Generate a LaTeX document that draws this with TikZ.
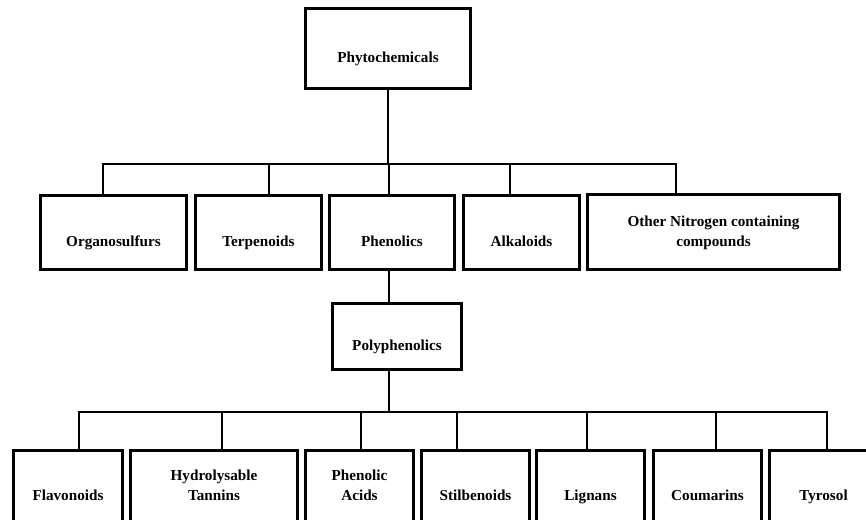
\documentclass[tikz,border=0pt]{standalone}
\usepackage{fontspec}
\setmainfont{Liberation Serif}

\begin{document}
\begin{tikzpicture}[x=0.75pt, y=-0.75pt,
    box/.style={draw, line width=2pt, align=center, inner sep=0pt,
      font=\fontsize{11.4}{15}\selectfont\bfseries},
    link/.style={line width=2pt}]
    \useasboundingbox (0,0) rectangle (866,519);
    \clip (0,0) rectangle (866,519);

    % top
    \node[box, minimum width=123.75pt, minimum height=60pt] (phyto) at (388,48.5) {\strut\\\strut Phytochemicals};

    % first level
    \node[box, minimum width=109.5pt, minimum height=55.5pt] (orgs) at (113.5,232.5) {\strut\\\strut Organosulfurs};
    \node[box, minimum width=94.5pt, minimum height=55.5pt] (terp) at (258.5,232.5) {\strut\\\strut Terpenoids};
    \node[box, minimum width=93.75pt, minimum height=55.5pt] (phen) at (392,232.5) {\strut\\\strut Phenolics};
    \node[box, minimum width=87pt, minimum height=55.5pt] (alka) at (521.5,232.5) {\strut\\\strut Alkaloids};
    \node[box, minimum width=189pt, minimum height=56pt] (other) at (713.5,232) {\strut Other Nitrogen containing\\\strut compounds};

    % polyphenolics
    \node[box, minimum width=96.75pt, minimum height=49.5pt] (poly) at (397,336.5) {\strut\\\strut Polyphenolics};

    % second level
    \node[box, minimum width=81.75pt, minimum height=53.25pt] (flav) at (68,486) {\strut\\\strut Flavonoids};
    \node[box, minimum width=125.25pt, minimum height=53.25pt] (hydro) at (214,486) {\strut Hydrolysable\\\strut Tannins};
    \node[box, minimum width=81pt, minimum height=53.25pt] (pacid) at (359.5,486) {\strut Phenolic\\\strut Acids};
    \node[box, minimum width=81pt, minimum height=53.25pt] (stil) at (475.5,486) {\strut\\\strut Stilbenoids};
    \node[box, minimum width=81pt, minimum height=53.25pt] (lign) at (590.5,486) {\strut\\\strut Lignans};
    \node[box, minimum width=81pt, minimum height=53.25pt] (coum) at (707.5,486) {\strut\\\strut Coumarins};
    \node[box, minimum width=81pt, minimum height=53.25pt] (tyro) at (823.5,486) {\strut\\\strut Tyrosol};

    % junctions on the bars
    \coordinate (a1) at (103,164);
    \coordinate (a2) at (269,164);
    \coordinate (a3) at (389,164);
    \coordinate (a4) at (510,164);
    \coordinate (a5) at (676,164);
    \coordinate (p1) at (389,271);
    \coordinate (b1) at (79,412);
    \coordinate (b2) at (222,412);
    \coordinate (b3) at (361,412);
    \coordinate (b4) at (457,412);
    \coordinate (b5) at (587,412);
    \coordinate (b6) at (716,412);
    \coordinate (b7) at (827,412);

    \draw[link] (phyto.south) -- (phyto.south |- a1);
    \draw[link] (a1 |- orgs.north) -- (a1) -- (a5) -- (a5 |- other.north);
    \draw[link] (a2) -- (a2 |- terp.north);
    \draw[link] (a3) -- (a3 |- phen.north);
    \draw[link] (a4) -- (a4 |- alka.north);

    \draw[link] (p1) -- (p1 |- poly.north);
    \draw[link] (p1 |- poly.south) -- (p1 |- b1);
    \draw[link] (b1 |- flav.north) -- (b1) -- (b7) -- (b7 |- tyro.north);
    \draw[link] (b2) -- (b2 |- hydro.north);
    \draw[link] (b3) -- (b3 |- pacid.north);
    \draw[link] (b4) -- (b4 |- stil.north);
    \draw[link] (b5) -- (b5 |- lign.north);
    \draw[link] (b6) -- (b6 |- coum.north);
\end{tikzpicture}
\end{document}
